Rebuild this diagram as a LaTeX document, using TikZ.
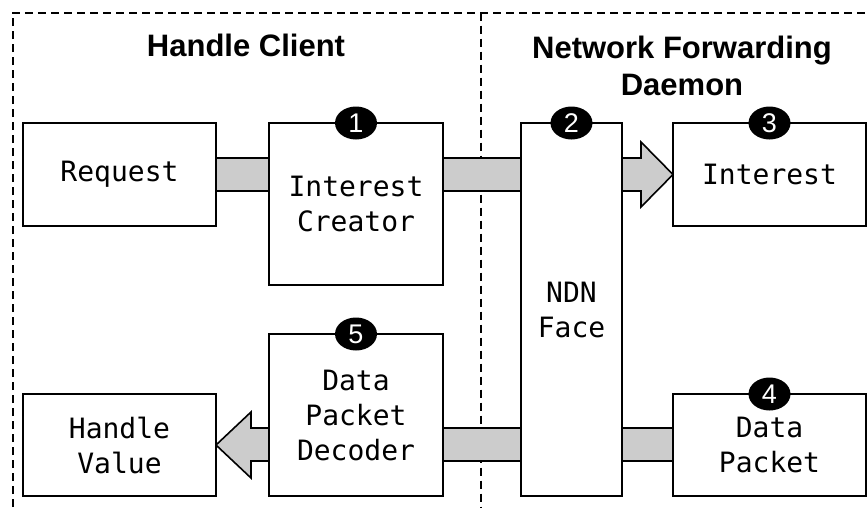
\documentclass[tikz,border=0pt]{standalone}
\usepackage{fontspec}
\setmainfont{Liberation Sans}
\setmonofont{DejaVu Sans Mono}
\usetikzlibrary{shapes.geometric}
\definecolor{bandgray}{HTML}{CCCCCC}
\pgfdeclarelayer{back}
\pgfdeclarelayer{mid}
\pgfsetlayers{back,mid,main}
\begin{document}
\begin{tikzpicture}[x=1pt,y=-1pt,
  box/.style={draw=black, line width=1.8pt, fill=white, inner sep=0pt, outer sep=0pt,
    align=center, font=\ttfamily\fontsize{28}{35}\selectfont},
  band/.style={draw=black, line width=1.6pt, fill=bandgray, line join=miter},
  badge/.style={ellipse, fill=black, minimum width=42pt, minimum height=33pt, inner sep=0pt,
    text=white, font=\fontsize{27}{27}\selectfont},
  title/.style={align=center, font=\bfseries\fontsize{31}{37}\selectfont},
  frame/.style={line width=2pt, dash pattern=on 8pt off 5pt}]
\useasboundingbox (0,0) rectangle (868,507);
\begin{pgfonlayer}{back}
  \fill[white] (0,0) rectangle (868,507);
  \coordinate (fbl) at (12.5,507);
  \coordinate (ftl) at (12.5,12.5);
  \coordinate (ftr) at (868,12.5);
  \coordinate (dtop) at (481,12.5);
  \coordinate (dbot) at (481,507);
  \draw[frame] (fbl) -- (ftl) -- (ftr);
  \draw[frame] (dtop) -- (dbot);
\end{pgfonlayer}

\node[title] (t1) at (246,45) {Handle Client};
\node[title] (t2) at (682,65.5) {Network Forwarding\\Daemon};

\node[box, minimum width=193pt, minimum height=103pt] (req) at (119.5,174.5) {Request};
\node[box, minimum width=174pt, minimum height=162pt] (ic) at (356,204) {Interest\\Creator};
\node[box, minimum width=101pt, minimum height=373pt] (face) at (571.5,309.5) {NDN\\Face};
\node[box, minimum width=193pt, minimum height=103pt] (int) at (769.5,174.5) {Interest};
\node[box, minimum width=193pt, minimum height=102pt] (dp) at (769.5,445) {Data\\Packet};
\node[box, minimum width=174pt, minimum height=162pt] (dec) at (356,415) {Data\\Packet\\Decoder};
\node[box, minimum width=193pt, minimum height=102pt] (hv) at (119.5,445) {Handle\\Value};

\node[badge] (b1) at (ic.north) {1};
\node[badge] (b2) at (face.north) {2};
\node[badge] (b3) at (int.north) {3};
\node[badge] (b4) at (dp.north) {4};
\node[badge] (b5) at (dec.north) {5};

\begin{pgfonlayer}{mid}
  \draw[band] (req.east |- 0,158) rectangle (ic.west |- 0,191);
  \draw[band] (ic.east |- 0,158) rectangle (face.west |- 0,191);
  \draw[band] (face.east |- 0,158) -- (641,158) -- (641,142) -- (int.west)
     -- (641,207) -- (641,191) -- (face.east |- 0,191) -- cycle;
  \draw[band] (dp.west |- 0,428) rectangle (face.east |- 0,461);
  \draw[band] (face.west |- 0,428) rectangle (dec.east |- 0,461);
  \draw[band] (dec.west |- 0,428) -- (251,428) -- (251,412) -- (hv.east)
     -- (251,478) -- (251,461) -- (dec.west |- 0,461) -- cycle;
\end{pgfonlayer}
\end{tikzpicture}
\end{document}
